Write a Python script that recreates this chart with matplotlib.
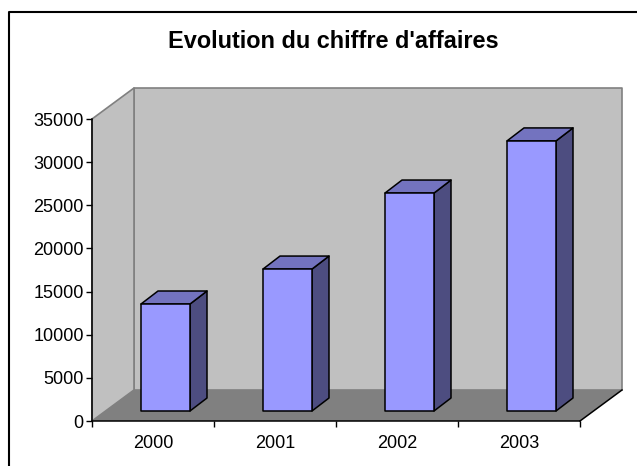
import matplotlib
matplotlib.use("Agg")
import matplotlib.pyplot as plt
from matplotlib.lines import Line2D
from matplotlib.patches import Polygon

years = ["2000", "2001", "2002", "2003"]
sales = [12400, 16450, 25260, 31300]
y_ticks = [0, 5000, 10000, 15000, 20000, 25000, 30000, 35000]

W, H = 637, 466
plt.rcParams['font.family'] = ['Liberation Sans', 'DejaVu Sans']

WALL = '#C0C0C0'
FLOOR = '#808080'
FRONT = '#9999FF'
SIDE = '#4D4D80'
TOP = '#7373BF'

# depth of the fake 3d box, in data units
ymax = 35000
depth_x = 42 / 122
depth_y = 31 / 302 * ymax
bar_w = 49 / 122
bar_dx = 17 / 122
bar_dy = 13 / 302 * ymax
front_dy = 10 / 302 * ymax


def poly(ax, pts, color, edge='black', lw=1.1, z=2):
    ax.add_patch(Polygon(pts, closed=True, facecolor=color, edgecolor=edge,
                         linewidth=lw, joinstyle='round', clip_on=False, zorder=z))


def draw_bar(ax, i, value):
    x0 = i + 0.5 - bar_w / 2 + (depth_x - bar_dx) / 2
    x1 = x0 + bar_w
    y0 = front_dy
    y1 = y0 + value
    poly(ax, [(x1, y0), (x1 + bar_dx, y0 + bar_dy), (x1 + bar_dx, y1 + bar_dy), (x1, y1)], SIDE, z=3)
    poly(ax, [(x0, y1), (x1, y1), (x1 + bar_dx, y1 + bar_dy), (x0 + bar_dx, y1 + bar_dy)], TOP, z=3)
    poly(ax, [(x0, y0), (x1, y0), (x1, y1), (x0, y1)], FRONT, z=4)


fig = plt.figure(figsize=(W / 100, H / 100), dpi=100)
ax = fig.add_axes([92 / W, 1 - 421 / H, 488 / W, 302 / H])
ax.set_xlim(0, len(years))
ax.set_ylim(0, ymax)
ax.patch.set_visible(False)

n = len(years)
# back wall, side wall, floor
poly(ax, [(depth_x, depth_y), (n + depth_x, depth_y), (n + depth_x, ymax + depth_y), (depth_x, ymax + depth_y)],
     WALL, edge=FLOOR, lw=1.2, z=1)
poly(ax, [(0, 0), (depth_x, depth_y), (depth_x, ymax + depth_y), (0, ymax)], WALL, edge=FLOOR, lw=1.2, z=1)
poly(ax, [(0, 0), (n, 0), (n + depth_x, depth_y), (depth_x, depth_y)], FLOOR, edge='none', lw=0, z=1)
ax.plot([n, n + depth_x], [0, depth_y], color='black', lw=1.1, clip_on=False, zorder=2)

for i, v in enumerate(sales):
    draw_bar(ax, i, v)

for s in ['top', 'right']:
    ax.spines[s].set_visible(False)
for s in ['left', 'bottom']:
    ax.spines[s].set_linewidth(1.1)
    ax.spines[s].set_zorder(5)

ax.set_yticks(y_ticks)
ax.set_xticks(range(n + 1))
ax.set_xticklabels([])
ax.set_xticks([i + 0.5 for i in range(n)], minor=True)
ax.set_xticklabels(years, minor=True)
ax.tick_params(axis='x', which='major', length=4, width=1.0)
ax.tick_params(axis='x', which='minor', length=0, pad=10, labelsize=13)
ax.tick_params(axis='y', length=4, width=1.0, pad=2, labelsize=13)

fig.text(333 / W, 1 - 42 / H, "Evolution du chiffre d'affaires", ha='center', va='center',
         fontsize=16.9, fontweight='bold')

# chart border only shows on the left and top
fig.add_artist(Line2D([9 / W, 9 / W, 1], [0, 1 - 12 / H, 1 - 12 / H], color='black', lw=1.5))

fig.savefig('out.png', dpi=100)
